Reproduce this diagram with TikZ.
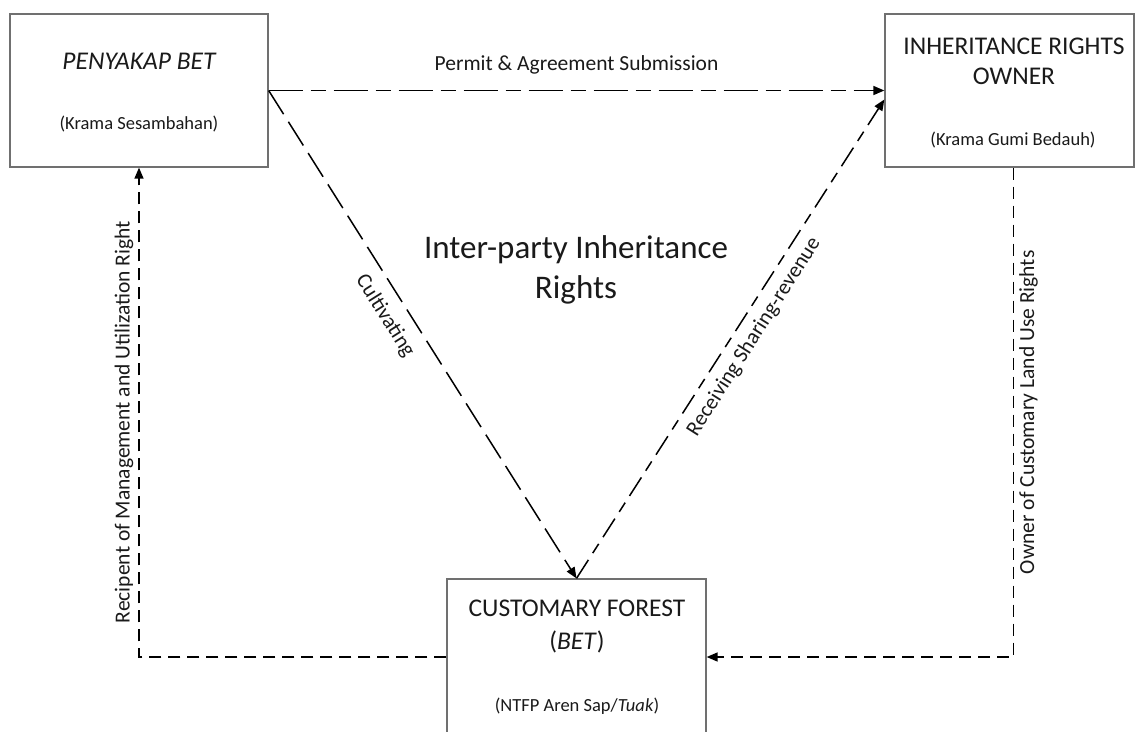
\documentclass[tikz,border=0pt]{standalone}
\usepackage{fontspec}
\setmainfont{Carlito}
\usetikzlibrary{arrows.meta}
\definecolor{boxline}{RGB}{112,112,112}
\definecolor{ink}{RGB}{26,26,26}
\begin{document}
\begin{tikzpicture}[x=1pt,y=-1pt,
  party/.style={draw=boxline, line width=1.3pt, rectangle, inner sep=0pt},
  title/.style={font=\fontsize{25.5}{30}\selectfont, text=ink, align=center, inner sep=0pt},
  sub/.style={font=\fontsize{18.5}{22}\selectfont, text=ink, inner sep=0pt},
  lbl/.style={font=\fontsize{21.5}{25}\selectfont, text=ink, inner sep=5pt},
  flow/.style={line width=1.5pt, -{Triangle[length=11pt,width=9pt]}},
  permitdash/.style={dash pattern=on 34pt off 8pt on 15pt off 8pt},
  longdash/.style={dash pattern=on 28pt off 9pt},
  mixdash/.style={dash pattern=on 22pt off 8pt on 11pt off 8pt},
  shortdash/.style={dash pattern=on 12pt off 7pt}
]
\fill[white] (0,0) rectangle (1135,731);
\clip (0,0) rectangle (1135,731);

% parties
\node[party, minimum width=258pt, minimum height=153pt] (pb) at (139,90.5) {};
\node[party, minimum width=249pt, minimum height=153pt] (irow) at (1009.5,90.5) {};
\node[party, minimum width=259pt, minimum height=156pt] (cf) at (576.5,657) {};

\node[title] (pbt) at (139,61) {\itshape PENYAKAP BET};
\node[sub] (pbs) at (139,124) {(Krama Sesambahan)};
\node[title] (irt) at (1014,61.5) {INHERITANCE RIGHTS\\OWNER};
\node[sub] (irs) at (1013,140) {(Krama Gumi Bedauh)};
\node[title, font=\fontsize{25.5}{33}\selectfont] (cft) at (577,626.5) {CUSTOMARY FOREST\\(\textit{BET})};
\node[sub] (cfs) at (577,706) {(NTFP Aren Sap/\textit{Tuak})};

% central caption
\node[title, font=\fontsize{33}{40}\selectfont] (core) at (576,270) {Inter-party Inheritance\\Rights};

% flows between parties
\draw[flow, permitdash] (pb.east) -- (irow.west)
  node[lbl, midway, above=11pt] (permit) {Permit \& Agreement Submission};
\draw[flow, longdash] (pb.east) -- (cf.north);
\draw[flow, mixdash] (cf.north) -- ([yshift=-9pt]irow.west);
\draw[flow, shortdash] (cf.west) -| (pb.south)
  node[lbl, pos=0.74, rotate=90, anchor=south] (recip) {Recipent of Management and Utilization Right};
\draw[flow, shortdash] ([xshift=4pt]irow.south) |- (cf.east)
  node[lbl, pos=0.25, rotate=90, anchor=north] (owner) {Owner of Customary Land Use Rights};

% labels along the diagonal flows
\node[lbl, inner sep=0pt, rotate=-57.7] (cult) at (385,316) {Cultivating};
\node[lbl, inner sep=0pt, rotate=57.6] (recv) at (754,337) {Receiving Sharing-revenue};
\end{tikzpicture}
\end{document}
